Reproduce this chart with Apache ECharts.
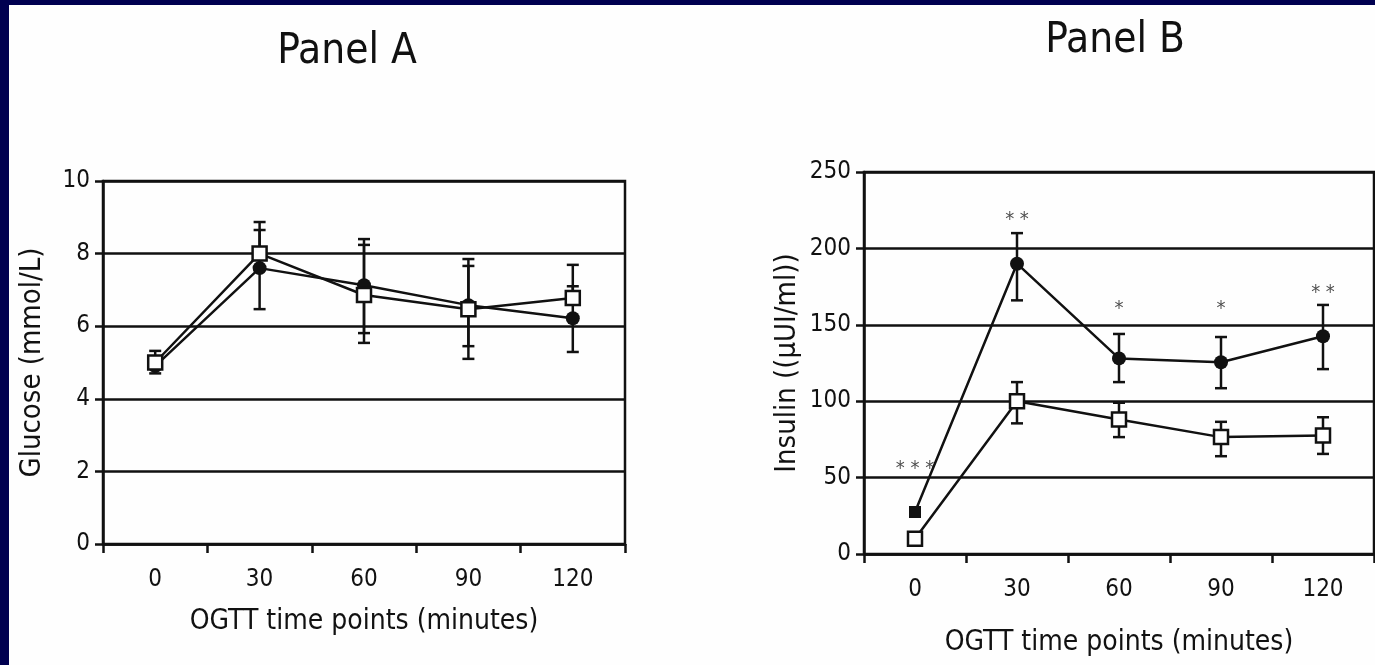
<!DOCTYPE html>
<html>
<head>
<meta charset="utf-8">
<script src="https://cdn.jsdelivr.net/npm/echarts@6/dist/echarts.min.js"></script>
<style>
  html, body { margin: 0; padding: 0; background: #000050; }
  #myEcharts { width: 1375px; height: 665px; }
</style>
</head>
<body>
<div id="myEcharts"></div>
<script>
const FONT = "'Liberation Sans Narrow', 'DejaVu Sans Condensed', sans-serif";

// x categories (OGTT minutes)
const timeLabels = ['0', '30', '60', '90', '120'];

// Panel A - glucose (mmol/L)
const glucoseOpen = [5.0, 8.0, 6.86, 6.47, 6.78];
const glucoseOpenHigh = [5.32, 8.87, 8.24, 7.85, 7.69];
const glucoseOpenLow = [5.0, 8.0, 5.54, 5.1, 6.78];
const glucoseFilled = [4.9, 7.6, 7.13, 6.58, 6.22];
const glucoseFilledHigh = [4.9, 8.65, 8.4, 7.66, 7.1];
const glucoseFilledLow = [4.7, 6.47, 5.81, 5.45, 5.29];

// Panel B - insulin (µUI/ml)
const insulinOpen = [10, 100, 88, 76.5, 77.5];
const insulinOpenHigh = [10, 112.5, 99, 86.5, 89.5];
const insulinOpenLow = [10, 85.5, 76.5, 64, 65.5];
const insulinFilled = [27.5, 190, 128, 125.5, 142.5];
const insulinFilledHigh = [27.5, 210, 144, 142, 163];
const insulinFilledLow = [27.5, 166, 112.5, 108.5, 121];
const starLabels = ['* * *', '* *', '*', '*', '* *'];
const starY = [59, 222, 164, 164, 174];

const glucoseTicks = [0, 2, 4, 6, 8, 10];
const insulinTicks = [0, 50, 100, 150, 200, 250];

function errData(low, high) {
    return low.map((v, i) => [i, v, high[i]]);
}

function renderErr(params, api) {
    const x = api.value(0);
    const lo = api.coord([x, api.value(1)]);
    const hi = api.coord([x, api.value(2)]);
    const half = 6;
    const style = { stroke: '#111', lineWidth: 2.5 };
    return {
        type: 'group',
        children: [
            { type: 'line', shape: { x1: lo[0], y1: lo[1], x2: hi[0], y2: hi[1] }, style: style },
            { type: 'line', shape: { x1: hi[0] - half, y1: hi[1], x2: hi[0] + half, y2: hi[1] }, style: style },
            { type: 'line', shape: { x1: lo[0] - half, y1: lo[1], x2: lo[0] + half, y2: lo[1] }, style: style }
        ]
    };
}

function xAxisOf(gridIndex, nameGap) {
    return {
        type: 'category',
        gridIndex: gridIndex,
        data: timeLabels,
        boundaryGap: true,
        axisLine: { lineStyle: { color: '#111', width: 2.5 } },
        axisTick: { show: true, length: 9, interval: 0, lineStyle: { color: '#111', width: 2.5 } },
        axisLabel: { color: '#111', fontSize: 24, fontFamily: FONT, margin: 24 },
        name: 'OGTT time points (minutes)',
        nameLocation: 'middle',
        nameGap: nameGap,
        nameTextStyle: { color: '#111', fontSize: 28, fontFamily: FONT }
    };
}

function yAxisOf(gridIndex, max, interval, name, nameGap) {
    return {
        type: 'value',
        gridIndex: gridIndex,
        min: 0,
        max: max,
        interval: interval,
        axisLine: { show: true, lineStyle: { color: '#111', width: 2.5 } },
        axisTick: { show: true, length: 8, lineStyle: { color: '#111', width: 2.5 } },
        axisLabel: { color: '#111', fontSize: 24, fontFamily: FONT, margin: 13 },
        splitLine: { show: true, lineStyle: { color: '#111', width: 2.5 } },
        name: name,
        nameLocation: 'middle',
        nameRotate: 90,
        nameGap: nameGap,
        nameTextStyle: { color: '#111', fontSize: 29, fontFamily: FONT }
    };
}

const filledSym = { symbol: 'circle', symbolSize: 14, itemStyle: { color: '#111' } };
const openSym = { symbol: 'rect', symbolSize: 14, itemStyle: { color: '#fff', borderColor: '#111', borderWidth: 2.5 } };
const lineSty = { color: '#111', width: 2.5 };

const option = {
    backgroundColor: '#000050',
    animation: false,
    graphic: [
        { type: 'rect', shape: { x: 9, y: 5, width: 1366, height: 660 }, style: { fill: '#fefefe' }, z: -10 },
        { type: 'text', x: 347, y: 52, style: { text: 'Panel A', font: '42px ' + FONT, fill: '#111', textAlign: 'center', textVerticalAlign: 'middle' } },
        { type: 'text', x: 1115, y: 41, style: { text: 'Panel B', font: '42px ' + FONT, fill: '#111', textAlign: 'center', textVerticalAlign: 'middle' } }
    ],
    grid: [
        { left: 103, top: 181, width: 522, height: 363, show: true, borderColor: '#111', borderWidth: 2.5, backgroundColor: 'transparent' },
        { left: 864, top: 172, width: 510, height: 382, show: true, borderColor: '#111', borderWidth: 2.5, backgroundColor: 'transparent' }
    ],
    xAxis: [xAxisOf(0, 64), xAxisOf(1, 75)],
    yAxis: [
        yAxisOf(0, glucoseTicks[glucoseTicks.length - 1], 2, 'Glucose (mmol/L)', 56),
        yAxisOf(1, insulinTicks[insulinTicks.length - 1], 50, 'Insulin ((µUI/ml))', 62)
    ],
    series: [
        { type: 'custom', xAxisIndex: 0, yAxisIndex: 0, renderItem: renderErr, data: errData(glucoseFilledLow, glucoseFilledHigh), z: 1 },
        { type: 'custom', xAxisIndex: 0, yAxisIndex: 0, renderItem: renderErr, data: errData(glucoseOpenLow, glucoseOpenHigh), z: 1 },
        Object.assign({ type: 'line', xAxisIndex: 0, yAxisIndex: 0, data: glucoseFilled, lineStyle: lineSty, z: 3 }, filledSym),
        Object.assign({ type: 'line', xAxisIndex: 0, yAxisIndex: 0, data: glucoseOpen, lineStyle: lineSty, z: 4 }, openSym),

        { type: 'custom', xAxisIndex: 1, yAxisIndex: 1, renderItem: renderErr, data: errData(insulinFilledLow, insulinFilledHigh), z: 1 },
        { type: 'custom', xAxisIndex: 1, yAxisIndex: 1, renderItem: renderErr, data: errData(insulinOpenLow, insulinOpenHigh), z: 1 },
        Object.assign({ type: 'line', xAxisIndex: 1, yAxisIndex: 1, lineStyle: lineSty, z: 3,
            data: insulinFilled.map((v, i) => i === 0 ? { value: v, symbol: 'rect', symbolSize: 12 } : v) }, filledSym),
        Object.assign({ type: 'line', xAxisIndex: 1, yAxisIndex: 1, data: insulinOpen, lineStyle: lineSty, z: 4 }, openSym),
        {
            type: 'scatter', xAxisIndex: 1, yAxisIndex: 1, symbolSize: 0, silent: true,
            data: starY.map((v, i) => [i, v]),
            label: {
                show: true, position: 'inside', offset: [0, 5], color: '#222', fontSize: 20, fontFamily: FONT,
                formatter: p => starLabels[p.dataIndex]
            }
        }
    ]
};

const myEcharts = echarts.init(document.getElementById('myEcharts'));
myEcharts.setOption(option);
</script>
</body>
</html>
